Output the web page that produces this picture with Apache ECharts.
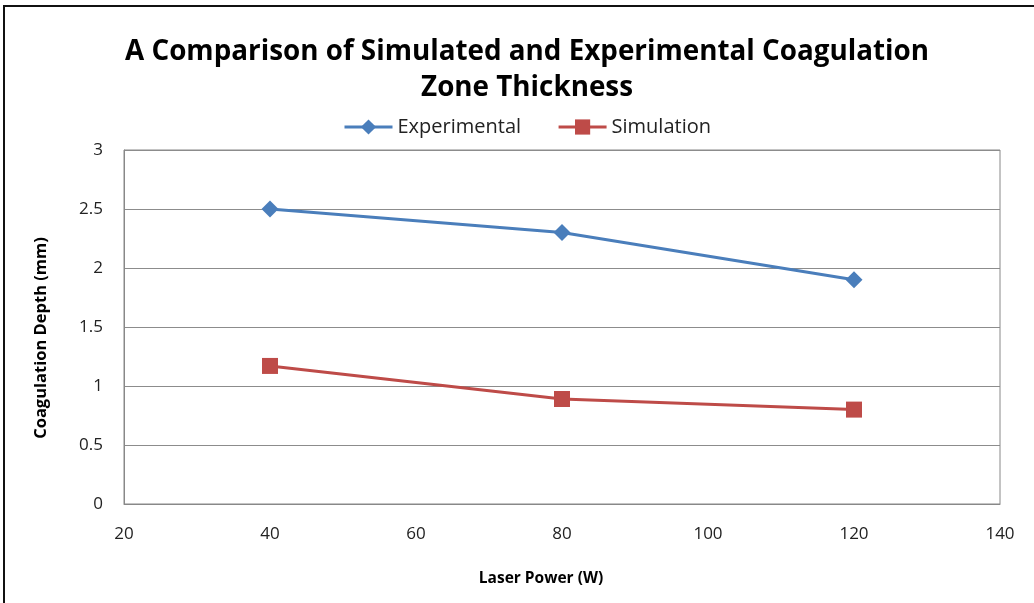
<!DOCTYPE html>
<html>
<head>
<meta charset="utf-8">
<script src="https://cdn.jsdelivr.net/npm/echarts@6/dist/echarts.min.js"></script>
<style>
  html, body { margin: 0; padding: 0; background: #fff; }
  #chart { width: 1034px; height: 603px; }
</style>
</head>
<body>
<div id="chart"></div>
<script>
// Laser power settings (W) and measured / simulated coagulation depth (mm)
const laserPower = [40, 80, 120];
const experimental = [2.5, 2.3, 1.9];
const simulation = [1.17, 0.89, 0.80];

const FONT = '"Open Sans", Lato, sans-serif';

const chart = echarts.init(document.getElementById('chart'));
chart.setOption({
  animation: false,
  backgroundColor: '#ffffff',
  graphic: [{
    type: 'rect',
    shape: { x: 4, y: 6, width: 1100, height: 700 },
    style: { fill: 'none', stroke: '#111', lineWidth: 2 },
    silent: true
  }],
  title: {
    text: 'A Comparison of Simulated and Experimental Coagulation\nZone Thickness',
    left: 522,
    textAlign: 'center',
    top: 29,
    textStyle: { fontFamily: FONT, fontSize: 27.8, fontWeight: 'bold', color: '#000', lineHeight: 36 }
  },
  legend: {
    top: 112,
    left: 338,
    itemWidth: 48,
    itemHeight: 19,
    itemGap: 36,
    lineStyle: { width: 3 },
    textStyle: { fontFamily: FONT, fontSize: 20, color: '#222', padding: [0, 0, 0, 0] },
    data: ['Experimental', 'Simulation']
  },
  grid: { left: 124, right: 34, top: 150, bottom: 99, show: true, borderColor: '#888', borderWidth: 1 },
  xAxis: {
    type: 'value',
    min: 20, max: 140, interval: 20,
    name: 'Laser Power (W)',
    nameLocation: 'middle',
    nameGap: 67,
    nameTextStyle: { fontFamily: FONT, fontSize: 15.5, fontWeight: 'bold', color: '#000', padding: [0, 42, 0, 0] },
    axisLine: { lineStyle: { color: '#888' } },
    axisTick: { show: false },
    splitLine: { show: false },
    axisLabel: { fontFamily: FONT, fontSize: 17, color: '#222', margin: 22 }
  },
  yAxis: {
    type: 'value',
    min: 0, max: 3, interval: 0.5,
    name: 'Coagulation Depth (mm)',
    nameLocation: 'middle',
    nameGap: 74,
    nameTextStyle: { fontFamily: FONT, fontSize: 16.5, fontWeight: 'bold', color: '#000', padding: [0, 22, 0, 0] },
    axisLine: { show: true, lineStyle: { color: '#888' } },
    axisTick: { show: false },
    splitLine: { lineStyle: { color: '#8c8c8c', width: 1 } },
    axisLabel: { fontFamily: FONT, fontSize: 17, color: '#222', margin: 21 }
  },
  series: [
    {
      name: 'Experimental',
      type: 'line',
      data: laserPower.map((p, i) => [p, experimental[i]]),
      symbol: 'diamond',
      symbolSize: 17,
      lineStyle: { color: '#4a7ebb', width: 3 },
      itemStyle: { color: '#4a7ebb' }
    },
    {
      name: 'Simulation',
      type: 'line',
      data: laserPower.map((p, i) => [p, simulation[i]]),
      symbol: 'rect',
      symbolSize: 16,
      lineStyle: { color: '#be4b48', width: 3 },
      itemStyle: { color: '#be4b48' }
    }
  ]
});
</script>
</body>
</html>
